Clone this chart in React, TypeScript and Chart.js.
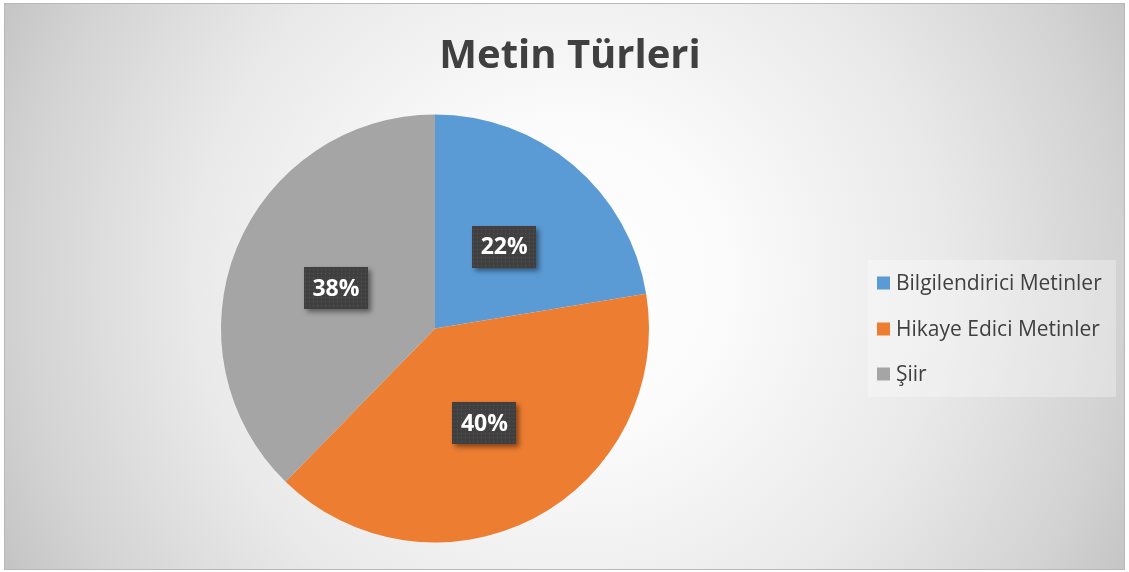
import React, { useEffect, useRef } from "react";
import { Chart, registerables } from "chart.js";

Chart.register(...registerables);

const categories = ["Bilgilendirici Metinler", "Hikaye Edici Metinler", "Şiir"];
const values = [22.4, 39.9, 37.7];
const colors = ["#5B9BD5", "#ED7D31", "#A5A5A5"];
const titleText = "Metin Türleri";

const W = 1129;
const H = 572;

function makeDotPattern(ctx: CanvasRenderingContext2D) {
  const c = document.createElement("canvas");
  c.width = 4;
  c.height = 4;
  const p = c.getContext("2d")!;
  p.fillStyle = "#404040";
  p.fillRect(0, 0, 4, 4);
  p.fillStyle = "#555555";
  p.fillRect(1, 1, 1, 1);
  return ctx.createPattern(c, "repeat")!;
}

const decorPlugin = {
  id: "decor",
  beforeDraw(chart: any) {
    const ctx: CanvasRenderingContext2D = chart.ctx;
    ctx.save();
    ctx.fillStyle = "#ffffff";
    ctx.fillRect(0, 0, chart.width, chart.height);
    const bx = 4, by = 3, bw = 1121, bh = 567;
    const g = ctx.createRadialGradient(568, 280, 0, 568, 280, 630);
    g.addColorStop(0, "#ffffff");
    g.addColorStop(0.25, "#fbfbfb");
    g.addColorStop(0.6, "#e9e9e9");
    g.addColorStop(0.88, "#d2d2d2");
    g.addColorStop(1, "#c4c4c4");
    ctx.fillStyle = g;
    ctx.fillRect(bx, by, bw, bh);
    ctx.strokeStyle = "#b8b8b8";
    ctx.lineWidth = 1;
    ctx.strokeRect(bx + 0.5, by + 0.5, bw - 1, bh - 1);
    // title
    ctx.fillStyle = "#404040";
    ctx.font = "bold 40px 'Open Sans'";
    ctx.textAlign = "center";
    ctx.textBaseline = "alphabetic";
    ctx.fillText(titleText, 570, 68);
    // legend
    ctx.fillStyle = "rgba(255,255,255,0.3)";
    ctx.fillRect(868, 260, 248, 137);
    const rows = [283, 329, 374];
    ctx.font = "21px 'Open Sans'";
    ctx.textAlign = "left";
    ctx.textBaseline = "middle";
    const labels = chart.data.labels;
    const bg = chart.data.datasets[0].backgroundColor;
    labels.forEach((l: string, i: number) => {
      ctx.fillStyle = bg[i];
      ctx.fillRect(877, rows[i] - 6.5, 13, 13);
      ctx.fillStyle = "#404040";
      ctx.fillText(l, 896, rows[i] + 1);
    });
    ctx.restore();
  },
  afterDatasetsDraw(chart: any) {
    const ctx: CanvasRenderingContext2D = chart.ctx;
    const meta = chart.getDatasetMeta(0);
    const data = chart.data.datasets[0].data as number[];
    const total = data.reduce((a, b) => a + b, 0);
    const pat = makeDotPattern(ctx);
    meta.data.forEach((arc: any, i: number) => {
      const pos = arc.tooltipPosition();
      const bw = 64, bh = 42;
      const x = Math.round(pos.x - bw / 2), y = Math.round(pos.y - bh / 2);
      ctx.save();
      ctx.shadowColor = "rgba(0,0,0,0.45)";
      ctx.shadowBlur = 5;
      ctx.shadowOffsetX = 3;
      ctx.shadowOffsetY = 3;
      ctx.fillStyle = "#404040";
      ctx.fillRect(x, y, bw, bh);
      ctx.restore();
      ctx.save();
      ctx.fillStyle = pat;
      ctx.fillRect(x, y, bw, bh);
      ctx.fillStyle = "#ffffff";
      ctx.font = "bold 23px 'Open Sans'";
      ctx.textAlign = "center";
      ctx.textBaseline = "middle";
      ctx.fillText(Math.round((data[i] / total) * 100) + "%", pos.x, pos.y + 1);
      ctx.restore();
    });
  },
};

export default function App() {
  const ref = useRef<HTMLCanvasElement>(null);
  useEffect(() => {
    if (!ref.current) return;
    const chart = new Chart(ref.current, {
      type: "pie",
      data: {
        labels: categories,
        datasets: [
          {
            data: values,
            backgroundColor: colors,
            borderWidth: 0,
          },
        ],
      },
      options: {
        responsive: false,
        animation: false,
        devicePixelRatio: 1,
        layout: { padding: { left: 221, right: W - 649, top: 114.5, bottom: H - 542.5 } },
        plugins: {
          legend: { display: false },
          title: { display: false },
          tooltip: { enabled: false },
        },
      },
      plugins: [decorPlugin],
    });
    return () => chart.destroy();
  }, []);
  return (
    <div style={{ position: "fixed", left: 0, top: 0, width: W, height: H }}>
      <canvas ref={ref} width={W} height={H} style={{ display: "block", width: W, height: H }} />
    </div>
  );
}
